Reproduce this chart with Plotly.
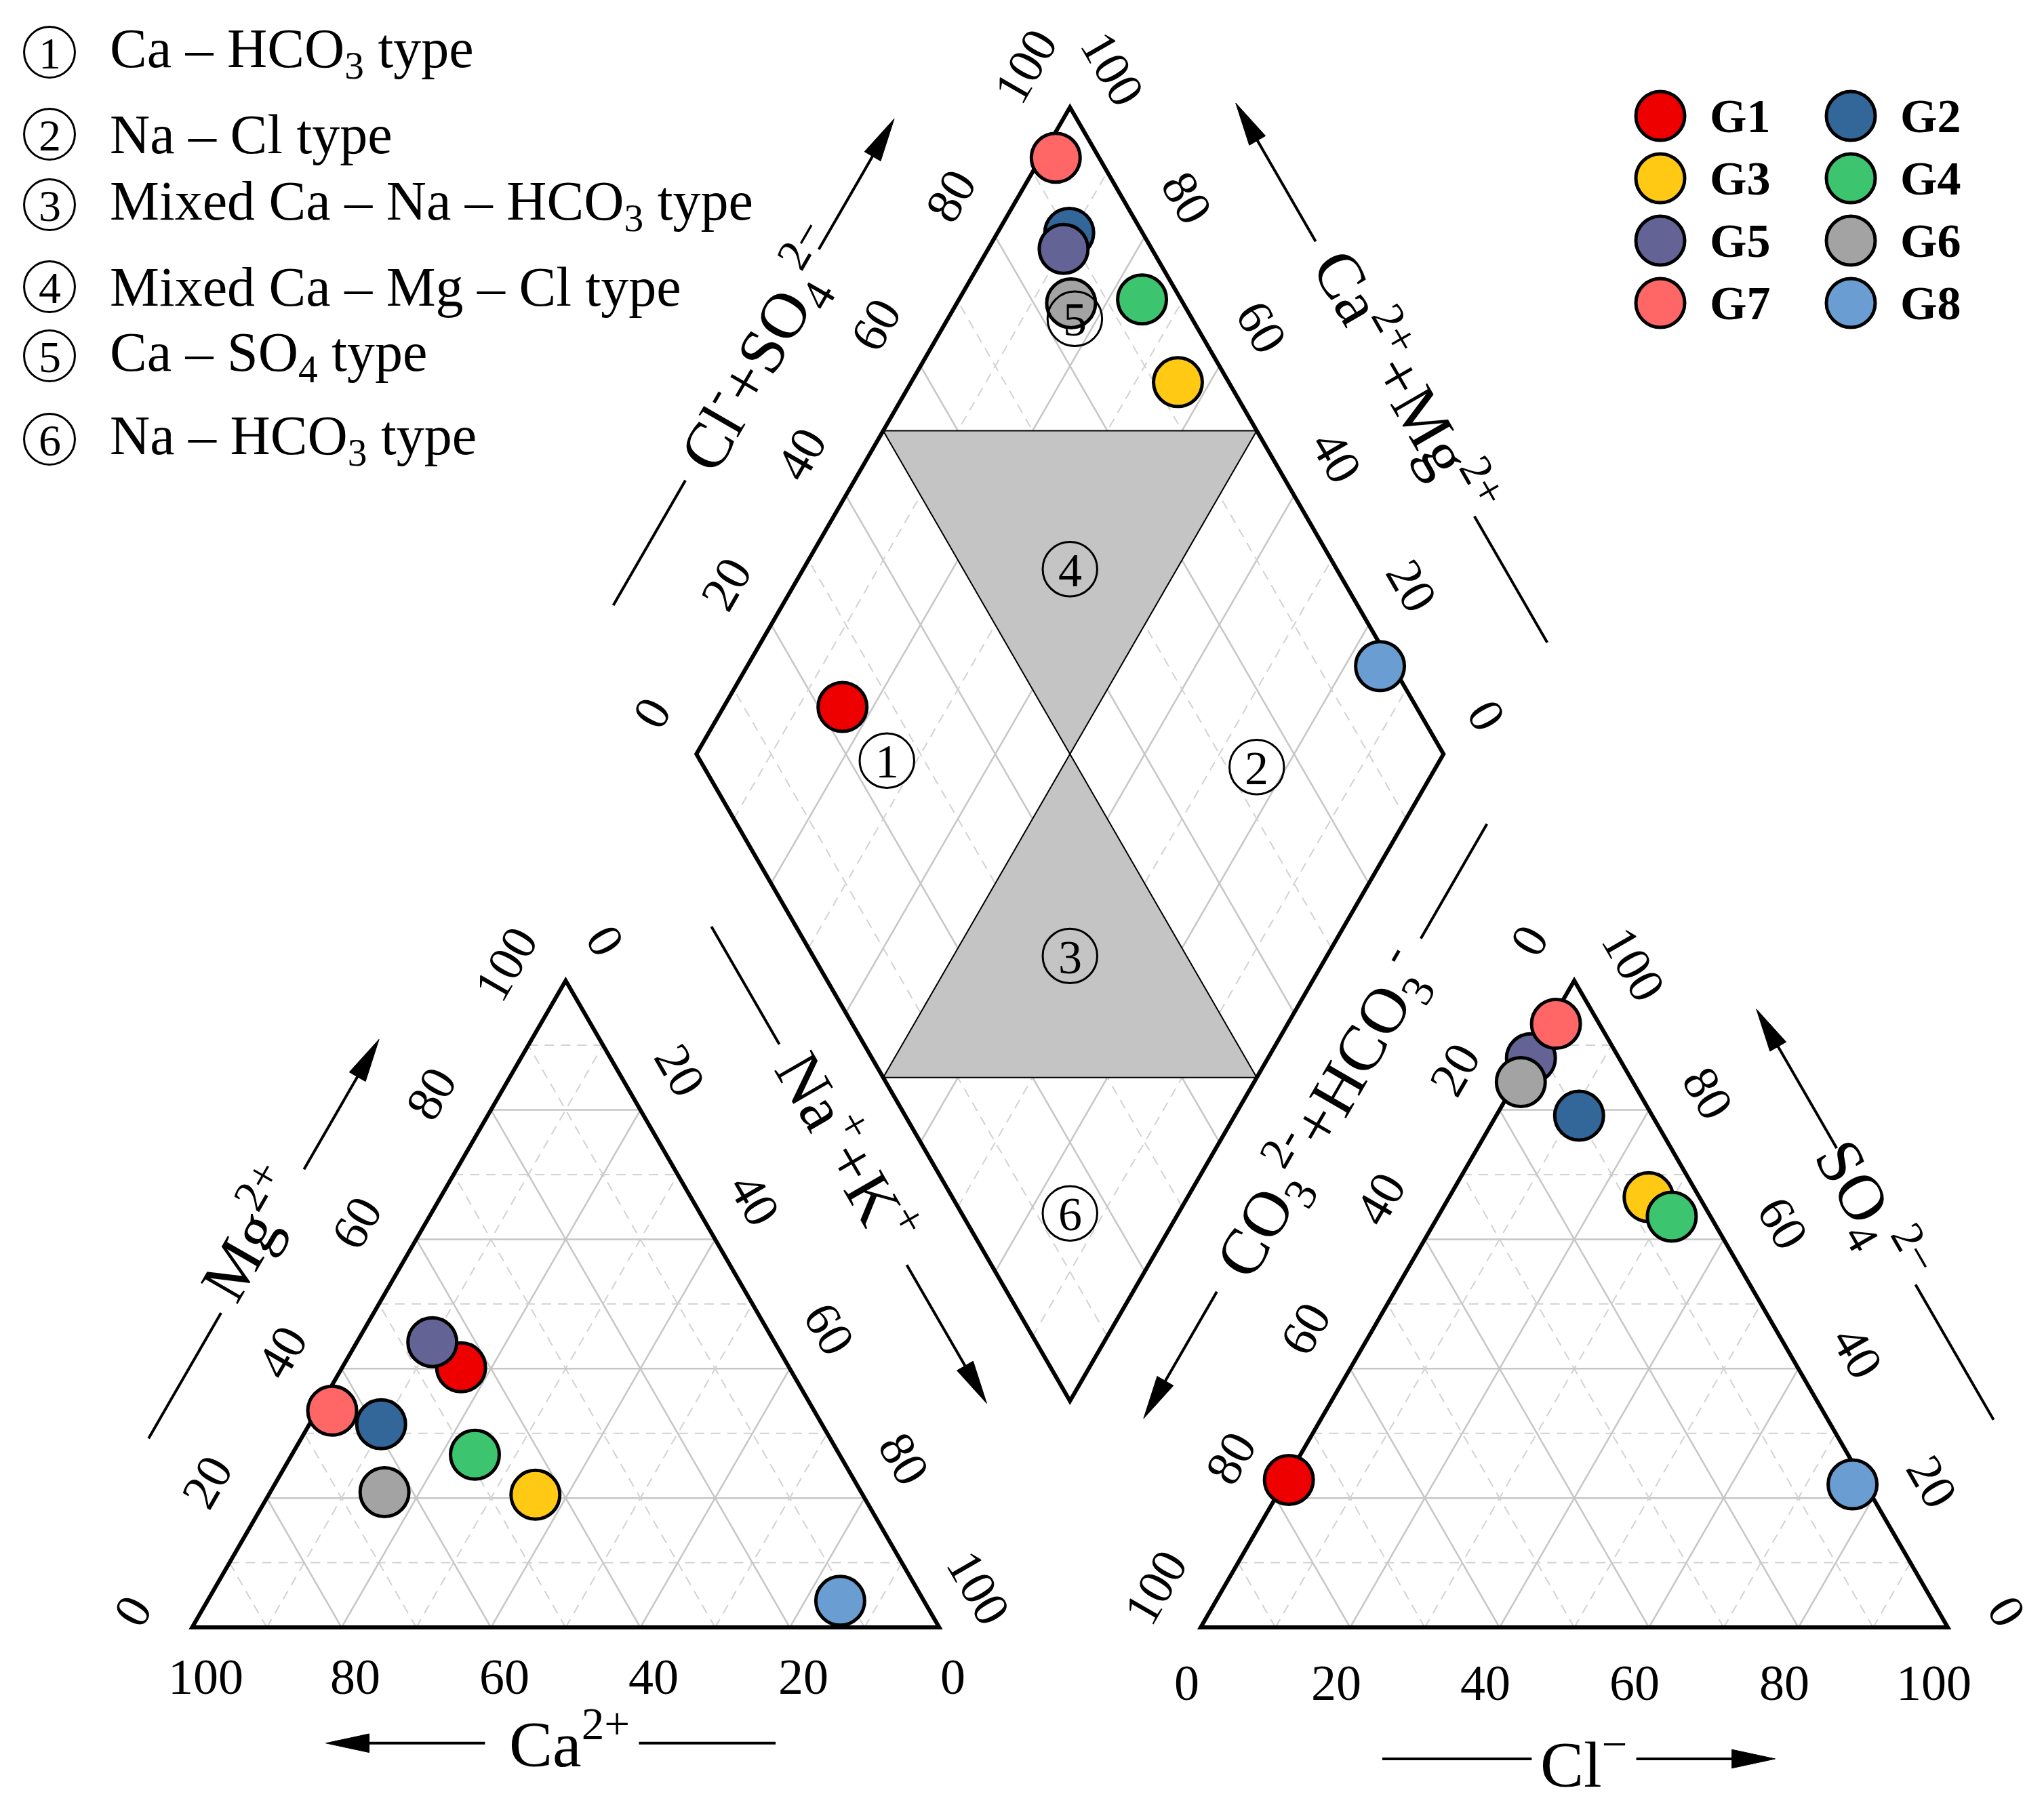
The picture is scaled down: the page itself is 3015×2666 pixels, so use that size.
import numpy as np
import plotly.graph_objects as go

# ---------------- data ----------------
groups = ["G1", "G2", "G3", "G4", "G5", "G6", "G7", "G8"]
colors = ["#EE0000", "#336699", "#FFC914", "#3CC46E", "#636396", "#A3A3A3", "#FF6666", "#6A9ED3"]
# cations (% meq)
ca = [43.9, 59.0, 43.8, 48.8, 45.8, 63.8, 64.5, 11.2]
mg = [40.2, 31.4, 20.5, 26.7, 44.1, 20.9, 33.5, 4.1]
na_k = [15.9, 9.6, 35.7, 24.5, 10.1, 15.3, 2.0, 84.7]
# anions (% meq)
hco3 = [76.8, 9.8, 6.8, 5.2, 11.8, 15.0, 5.8, 1.7]
so4 = [22.8, 79.1, 66.5, 63.5, 88.0, 84.3, 93.3, 22.1]
cl = [0.4, 11.1, 26.7, 31.3, 0.2, 0.7, 0.9, 76.2]

tick_values = [0, 20, 40, 60, 80, 100]
tick_labels = ["0", "20", "40", "60", "80", "100"]

region_numbers = ["1", "2", "3", "4", "5", "6"]
region_names = ["Ca – HCO<sub>3</sub> type", "Na – Cl type", "Mixed Ca – Na – HCO<sub>3</sub> type",
                "Mixed Ca – Mg – Cl type", "Ca – SO<sub>4</sub> type", "Na – HCO<sub>3</sub> type"]
# label positions inside the diamond, in (Ca+Mg %, Cl+SO4 %)
region_cm = [74.0, 24.0, 34.4, 64.3, 83.0, 14.5]
region_a = [25.0, 74.0, 34.4, 64.3, 84.3, 14.5]

# ---------------- geometry / style ----------------
W, H = 3015, 2666
BODY = 8                    # default page margin around the plot div
PX = 11.02                  # pixels per unit
ORX, ORY = 283.4, 2401.0    # page-pixel position of the left triangle's lower-left corner
S = 100.0
GAP = 35.0
H3 = np.sqrt(3) / 2
RX0 = S + GAP
BX, BY = S + GAP / 2, GAP * H3          # diamond bottom vertex

SERIF = "Liberation Serif, Times New Roman, serif"
GRID_SOLID = dict(color="#C6C6C6", width=2.5)
GRID_DASH = dict(color="#D2D2D2", width=2, dash="14px,10px")
OUTLINE = dict(color="black", width=6)


def cation_xy(c, m, n):
    t = c + m + n
    return S * (n + m / 2) / t, S * H3 * m / t


def anion_xy(h, s, c):
    t = h + s + c
    return RX0 + S * (c + s / 2) / t, S * H3 * s / t


def diamond_xy(cm, a):
    return BX + S * (a - cm) / 200, BY + S * H3 * (a + cm) / 100


def px2x(p): return (p - ORX) / PX
def px2y(p): return (ORY - p) / PX


shapes = []
annotations = []


def seg(p, q, line, layer="below"):
    shapes.append(dict(type="line", x0=p[0], y0=p[1], x1=q[0], y1=q[1],
                       xref="x", yref="y", line=line, layer=layer))


def poly(pts, fill, line):
    path = "M " + " L ".join(f"{x:.4f},{y:.4f}" for x, y in pts) + " Z"
    shapes.append(dict(type="path", path=path, xref="x", yref="y",
                       fillcolor=fill, line=line, layer="below"))


# ---- grids ----
for v in range(10, 100, 10):
    st = GRID_SOLID if v % 20 == 0 else GRID_DASH
    w = 100 - v
    seg(cation_xy(w, v, 0), cation_xy(0, v, w), st)
    seg(cation_xy(w, 0, v), cation_xy(0, w, v), st)
    seg(cation_xy(v, 0, w), cation_xy(v, w, 0), st)
    seg(anion_xy(w, v, 0), anion_xy(0, v, w), st)
    seg(anion_xy(w, 0, v), anion_xy(0, w, v), st)
    seg(anion_xy(v, 0, w), anion_xy(v, w, 0), st)
    seg(diamond_xy(0, v), diamond_xy(100, v), st)
    seg(diamond_xy(v, 0), diamond_xy(v, 100), st)

# ---- gray zones in diamond ----
thin = dict(color="black", width=2)
poly([diamond_xy(100, 50), diamond_xy(50, 100), diamond_xy(50, 50)], "#C4C4C4", thin)
poly([diamond_xy(50, 50), diamond_xy(50, 0), diamond_xy(0, 50)], "#C4C4C4", thin)

# ---- outlines ----
poly([cation_xy(100, 0, 0), cation_xy(0, 0, 100), cation_xy(0, 100, 0)], "rgba(0,0,0,0)", OUTLINE)
poly([anion_xy(100, 0, 0), anion_xy(0, 0, 100), anion_xy(0, 100, 0)], "rgba(0,0,0,0)", OUTLINE)
poly([diamond_xy(0, 0), diamond_xy(0, 100), diamond_xy(100, 100), diamond_xy(100, 0)],
     "rgba(0,0,0,0)", OUTLINE)


def label(x, y, text, size, angle=0, family=SERIF, xanchor="center", bold=False):
    annotations.append(dict(x=x, y=y, xref="x", yref="y", text=(f"<b>{text}</b>" if bold else text),
                            showarrow=False, textangle=angle, xanchor=xanchor, yanchor="middle",
                            font=dict(family=family, size=size, color="black")))


def circled(x, y, digit, r, size):
    shapes.append(dict(type="circle", xref="x", yref="y", x0=x - r, x1=x + r, y0=y - r, y1=y + r,
                       line=dict(color="black", width=3), fillcolor="rgba(0,0,0,0)", layer="above"))
    label(x, y - 0.15, digit, size)


# ---- tick labels ----
TK = 74
for v, t in zip(tick_values, tick_labels):
    w = 100 - v
    x, y = cation_xy(v, 0, w); label(x + 1.8, y - 6.6, t, TK)               # Ca
    x, y = cation_xy(w, v, 0); label(x - 8.0, y + 2.2, t, TK, -60)          # Mg
    x, y = cation_xy(0, w, v); label(x + 5.3, y + 5.3, t, TK, 60)           # Na+K
    x, y = anion_xy(w, 0, v); label(x - 1.9, y - 7.4, t, TK)                # Cl
    x, y = anion_xy(v, w, 0); label(x - 6.0, y + 5.4, t, TK, -60)           # CO3+HCO3
    x, y = anion_xy(0, v, w); label(x + 7.9, y + 2.2, t, TK, 60)            # SO4
    x, y = diamond_xy(100, v); label(x - 6.0, y + 5.5, t, TK, -60)          # Cl+SO4
    x, y = diamond_xy(v, 100); label(x + 5.7, y + 5.2, t, TK, 60)           # Ca+Mg

# ---- axis titles with lines and arrows ----
TT = 96
AH_L, AH_W = 5.8, 1.25
deco = dict(color="black", width=4)


def axis_title(text, p0, d, n, line_dist, text_dist, line_t, text_t, arrow_t, angle):
    def at(t, dist):
        return (p0[0] + d[0] * t + n[0] * dist, p0[1] + d[1] * t + n[1] * dist)
    seg(at(line_t[0], line_dist), at(line_t[1], line_dist), deco, "above")
    sgn = 1 if arrow_t[1] > arrow_t[0] else -1
    tip = at(arrow_t[1], line_dist)
    base = at(arrow_t[1] - sgn * AH_L, line_dist)
    seg(at(arrow_t[0], line_dist), at(arrow_t[1] - sgn * (AH_L - 0.5), line_dist), deco, "above")
    p1 = (base[0] + n[0] * AH_W, base[1] + n[1] * AH_W)
    p2 = (base[0] - n[0] * AH_W, base[1] - n[1] * AH_W)
    path = f"M {tip[0]:.4f},{tip[1]:.4f} L {p1[0]:.4f},{p1[1]:.4f} L {p2[0]:.4f},{p2[1]:.4f} Z"
    shapes.append(dict(type="path", path=path, xref="x", yref="y", fillcolor="black",
                       line=dict(color="black", width=1), layer="above"))
    tx, ty = at(text_t, text_dist)
    label(tx, ty, text, TT, angle)


UP_R = (0.5, H3)
DN_R = (0.5, -H3)
N_L = (-H3, 0.5)
N_R = (H3, 0.5)

axis_title("Ca<sup>2+</sup>", (0, 0), (1, 0), (0, -1), 15.5, 15.0, (59.8, 78.1), 50.5, (39.2, 17.9), 0)
axis_title("Mg<sup>2+</sup>", (0, 0), UP_R, N_L, 17.7, 20.0, (19.0, 38.4), 49.6, (60.6, 80.7), -60)
axis_title("Na<sup>+</sup>+K<sup>+</sup>", (50, S * H3), DN_R, N_R, 20.5, 21.8, (3.5, 21.7), 38.3, (55.8, 77.2), 60)
axis_title("Cl<sup>−</sup>", (RX0, 0), (1, 0), (0, -1), 17.6, 17.7, (24.3, 44.3), 51.3, (58.3, 76.9), 0)
axis_title("CO<sub>3</sub><sup>2-</sup>+HCO<sub>3</sub><sup>-</sup>", (RX0, 0), UP_R, N_L, 20.6, 20.2,
           (94.6, 112.3), 67.7, (40.0, 20.4), -60)
axis_title("SO<sub>4</sub><sup>2−</sup>", (RX0 + 50, S * H3), DN_R, N_R, 19.2, 18.9, (58.1, 79.0), 46.7,
           (37.0, 15.5), 60)
axis_title("Cl<sup>-</sup>+SO<sub>4</sub><sup>2−</sup>", diamond_xy(100, 0), UP_R, N_L, 19.6, 19.4,
           (11.7, 31.0), 51.4, (66.7, 86.9), -60)
axis_title("Ca<sup>2+</sup>+Mg<sup>2+</sup>", diamond_xy(100, 100), DN_R, N_R, 19.5, 20.8,
           (74.5, 94.0), 54.4, (32.0, 10.6), 60)

# ---- region labels in diamond ----
for num, cmv, av in zip(region_numbers, region_cm, region_a):
    x, y = diamond_xy(cmv, av)
    circled(x, y, num, 3.65, 70)

# ---- type legend (top-left) ----
legend_rows_px = [77, 198, 302, 423, 525, 648]
for num, name, yp in zip(region_numbers, region_names, legend_rows_px):
    circled(px2x(73), px2y(yp), num, 3.4, 66)
    label(px2x(160), px2y(yp), name, 82, xanchor="left")

# ---- data traces ----
fig = go.Figure()
for i, g in enumerate(groups):
    cx, cy = cation_xy(ca[i], mg[i], na_k[i])
    ax_, ay_ = anion_xy(hco3[i], so4[i], cl[i])
    cm_pct = 100 * (ca[i] + mg[i]) / (ca[i] + mg[i] + na_k[i])
    a_pct = 100 * (cl[i] + so4[i]) / (cl[i] + so4[i] + hco3[i])
    dx, dy = diamond_xy(cm_pct, a_pct)
    fig.add_trace(go.Scatter(
        x=[cx, ax_, dx], y=[cy, ay_, dy], mode="markers", name=g, showlegend=False,
        marker=dict(size=72, color=colors[i], line=dict(color="black", width=5)),
        hoverinfo="name"))

# ---- group legend (top-right, 2 columns) ----
LEG_X0, LEG_DX = px2x(2449), 25.5
LEG_Y0, LEG_DY = px2y(171), 8.35
for i, g in enumerate(groups):
    col, row = i % 2, i // 2
    lx, ly = LEG_X0 + col * LEG_DX, LEG_Y0 - row * LEG_DY
    fig.add_trace(go.Scatter(
        x=[lx], y=[ly], mode="markers", showlegend=False, hoverinfo="skip",
        marker=dict(size=72, color=colors[i], line=dict(color="black", width=5))))
    label(lx + 6.4, ly, g, 70, xanchor="left", bold=True)

PW, PH = W - 2 * BODY, H - 2 * BODY
OX, OY = ORX - BODY, ORY - BODY
fig.update_layout(
    width=PW, height=PH, margin=dict(l=0, r=0, t=0, b=0),
    paper_bgcolor="white", plot_bgcolor="white",
    xaxis=dict(range=[-OX / PX, (PW - OX) / PX], visible=False, fixedrange=True),
    yaxis=dict(range=[-(PH - OY) / PX, OY / PX], visible=False, fixedrange=True),
    shapes=shapes, annotations=annotations, showlegend=False,
)
fig.write_html("out.html")
